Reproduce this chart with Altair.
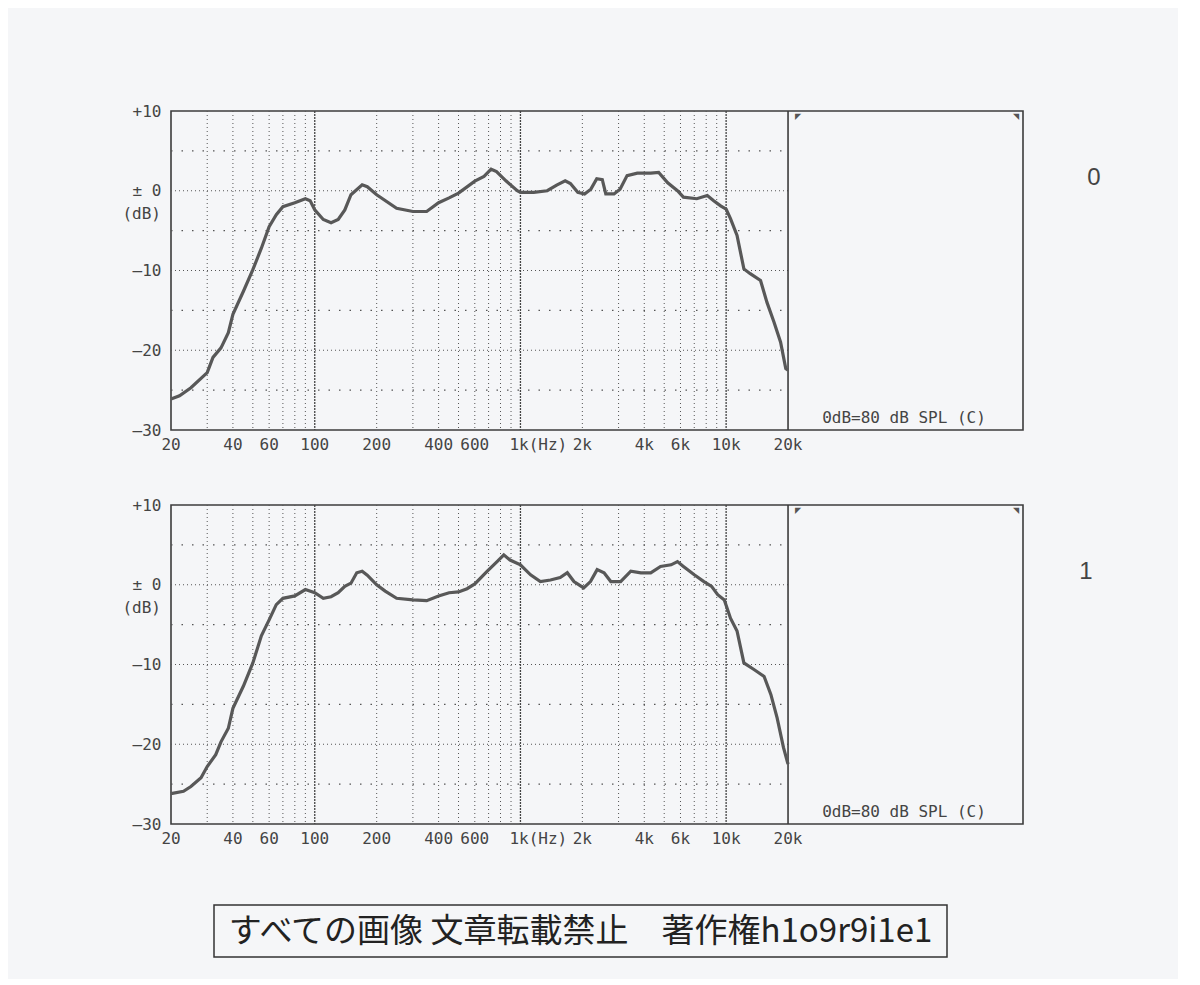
import altair as alt
import pandas as pd

# ---------------- data ----------------
top_freq = [20, 22, 25, 30, 32, 35, 38, 40, 45, 50, 55, 60, 65, 70, 80, 90, 95, 100, 110, 120,
            130, 140, 150, 170, 180, 200, 250, 300, 350, 400, 450, 500, 600, 665, 720, 765, 850,
            965, 1000, 1160, 1350, 1500, 1650, 1750, 1900, 2050, 2200, 2350, 2500, 2600, 2850,
            3050, 3300, 3700, 4300, 4700, 5200, 5800, 6200, 7200, 8100, 8700, 9400, 10000,
            10500, 11300, 12200, 13100, 14700, 15800, 17100, 18400, 19500, 20000]
top_db = [-26.1, -25.7, -24.7, -22.8, -20.9, -19.7, -17.8, -15.5, -12.6, -9.9, -7.2, -4.5, -3.0,
          -2.0, -1.5, -1.0, -1.25, -2.4, -3.6, -4.0, -3.6, -2.4, -0.5, 0.75, 0.5, -0.5, -2.2,
          -2.6, -2.6, -1.5, -0.9, -0.3, 1.2, 1.8, 2.7, 2.4, 1.25, 0.0, -0.2, -0.2, 0.0, 0.7,
          1.25, 0.9, -0.2, -0.4, 0.2, 1.5, 1.4, -0.4, -0.4, 0.2, 1.9, 2.2, 2.2, 2.3, 1.0, 0.0,
          -0.8, -1.0, -0.6, -1.25, -1.9, -2.3, -3.5, -5.6, -9.8, -10.4, -11.25, -14.0, -16.5,
          -19.0, -22.3, -22.5]

bot_freq = [20, 23, 25, 28, 30, 33, 35, 38, 40, 45, 50, 55, 60, 65, 70, 80, 90, 100, 110, 120,
            130, 140, 150, 160, 170, 180, 200, 220, 250, 300, 350, 400, 450, 500, 550, 600, 690,
            770, 830, 890, 1000, 1120, 1250, 1400, 1560, 1690, 1820, 2030, 2190, 2360, 2550,
            2750, 3070, 3440, 3850, 4300, 4800, 5400, 5800, 6200, 7000, 7800, 8500, 9100, 9800,
            10500, 11300, 12200, 13600, 15300, 16500, 17700, 19000, 20000]
bot_db = [-26.2, -25.9, -25.3, -24.2, -22.8, -21.3, -19.7, -18.0, -15.5, -12.7, -9.8, -6.4, -4.4,
          -2.5, -1.7, -1.4, -0.6, -1.0, -1.7, -1.5, -1.0, -0.2, 0.2, 1.5, 1.7, 1.2, 0.0, -0.8,
          -1.7, -1.9, -2.0, -1.4, -1.0, -0.9, -0.5, 0.1, 1.7, 2.9, 3.75, 3.1, 2.5, 1.25, 0.4,
          0.6, 0.9, 1.5, 0.4, -0.4, 0.4, 1.9, 1.5, 0.4, 0.4, 1.7, 1.5, 1.5, 2.3, 2.5, 2.9, 2.3,
          1.25, 0.4, -0.2, -1.25, -1.9, -4.2, -5.8, -9.8, -10.6, -11.5, -13.75, -16.7, -20.4,
          -22.5]

panel_tags = ["0", "1"]

grid_minor_f = [30, 40, 50, 60, 70, 80, 90, 200, 300, 400, 500, 600, 700, 800, 900,
                2000, 3000, 4000, 5000, 6000, 7000, 8000, 9000]
grid_major_f = [100, 1000, 10000]
grid_major_db = [0, -10, -20]
grid_minor_db = [5, -5, -15, -25]

x_lbl_f = [20, 40, 60, 100, 200, 400, 600, 2000, 4000, 6000, 10000, 20000]
x_lbl_t = ["20", "40", "60", "100", "200", "400", "600", "2k", "4k", "6k", "10k", "20k"]
y_tick_vals = [10, 0, -10, -20, -30]

spl_note = "0dB=80 dB SPL (C)"
footer_text = "すべての画像 文章転載禁止　著作権h1o9r9i1e1"

# ---------------- layout constants ----------------
W, H = 852, 319
X_MAX = 277600
MONO = "DejaVu Sans Mono"
INK = "#3c3c3c"
BG = "#f5f6f8"

xs = alt.Scale(type="log", domain=[20, X_MAX])
ys = alt.Scale(domain=[-30, 10])
y_axis = alt.Axis(
    values=y_tick_vals, grid=False, ticks=False, domain=False, title=None,
    labelExpr="datum.value == 10 ? '+10' : datum.value == 0 ? '± 0' : '—' + abs(datum.value)",
    labelFont=MONO, labelFontSize=16, labelColor="#444", labelPadding=10,
)


def panel(freq, db, tag):
    curve = pd.DataFrame({"f": freq, "db": db})

    vmin = alt.Chart(pd.DataFrame({"f": grid_minor_f})).mark_rule(
        color="#555", strokeWidth=1, strokeDash=[1, 3]
    ).encode(x=alt.X("f:Q", scale=xs, axis=None), y=alt.value(0), y2=alt.value(H))

    vmaj = alt.Chart(pd.DataFrame({"f": grid_major_f})).mark_rule(
        color="#444", strokeWidth=1.3, strokeDash=[2, 1]
    ).encode(x=alt.X("f:Q", scale=xs, axis=None), y=alt.value(0), y2=alt.value(H))

    hmaj = alt.Chart(pd.DataFrame({"g": grid_major_db, "a": [20] * 3, "b": [20000] * 3})).mark_rule(
        color="#555", strokeWidth=1.1, strokeDash=[1, 3]
    ).encode(y=alt.Y("g:Q", scale=ys, axis=y_axis),
             x=alt.X("a:Q", scale=xs, axis=None), x2="b:Q")

    hmin = alt.Chart(pd.DataFrame({"g": grid_minor_db, "a": [20] * 4, "b": [20000] * 4})).mark_rule(
        color="#555", strokeWidth=1.2, strokeDash=[1.5, 9]
    ).encode(y=alt.Y("g:Q", scale=ys, axis=y_axis),
             x=alt.X("a:Q", scale=xs, axis=None), x2="b:Q")

    edge = alt.Chart(pd.DataFrame({"f": [20000]})).mark_rule(
        color=INK, strokeWidth=1.6
    ).encode(x=alt.X("f:Q", scale=xs, axis=None), y=alt.value(0), y2=alt.value(H))

    line = alt.Chart(curve).mark_line(
        color="#585858", strokeWidth=3.2, interpolate="linear", strokeJoin="miter"
    ).encode(
        x=alt.X("f:Q", scale=xs, axis=None),
        y=alt.Y("db:Q", scale=ys, axis=y_axis),
    )

    xl = alt.Chart(pd.DataFrame({"f": x_lbl_f, "t": x_lbl_t})).mark_text(
        font=MONO, fontSize=16, color="#444", baseline="middle", align="center"
    ).encode(x=alt.X("f:Q", scale=xs, axis=None), y=alt.value(H + 15), text="t:N")

    x1k = alt.Chart(pd.DataFrame({"f": [1000], "t": ["1k(Hz)"]})).mark_text(
        font=MONO, fontSize=16, color="#444", baseline="middle", align="left", dx=-11
    ).encode(x=alt.X("f:Q", scale=xs, axis=None), y=alt.value(H + 15), text="t:N")

    db_unit = alt.Chart(pd.DataFrame({"v": [-2.9], "t": ["(dB)"]})).mark_text(
        font=MONO, fontSize=16, color="#444", baseline="middle", align="right"
    ).encode(y=alt.Y("v:Q", scale=ys, axis=y_axis), x=alt.value(-10), text="t:N")

    spl = alt.Chart(pd.DataFrame({"t": [spl_note]})).mark_text(
        font=MONO, fontSize=16, color="#444", baseline="middle", align="center"
    ).encode(x=alt.value(733), y=alt.value(H - 12), text="t:N")

    corners = alt.Chart(pd.DataFrame({"t": ["◤", "◥"], "px": [627, 845]})).mark_text(
        fontSize=8, color="#555", baseline="top", align="center"
    ).encode(x=alt.X("px:Q", scale=None), y=alt.value(2), text="t:N")

    tag_txt = alt.Chart(pd.DataFrame({"t": [tag]})).mark_text(
        font="Liberation Sans", fontSize=24, color="#444", baseline="middle", align="center"
    ).encode(x=alt.value(923 if tag == "0" else 915), y=alt.value(67), text="t:N")

    return alt.layer(
        vmin, vmaj, hmaj, hmin, edge, line, xl, x1k, db_unit, spl, corners, tag_txt
    ).properties(width=W, height=H)


FOOT_OFF = 14
footer_df = pd.DataFrame({"t": [footer_text]})
footer_box = alt.Chart(footer_df).mark_rect(
    fill=BG, stroke="#333", strokeWidth=1.5
).encode(x=alt.value(43), x2=alt.value(776), y=alt.value(FOOT_OFF), y2=alt.value(FOOT_OFF + 52))
footer_txt = alt.Chart(footer_df).mark_text(
    font="Noto Sans CJK JP", fontSize=33, color="#222", baseline="middle", align="center"
).encode(x=alt.value(409.5), y=alt.value(FOOT_OFF + 27), text="t:N")
footer = alt.layer(footer_box, footer_txt).properties(
    width=W, height=FOOT_OFF + 52, view=alt.ViewConfig(stroke="transparent")
)

p0 = panel(top_freq, top_db, panel_tags[0])
p1 = panel(bot_freq, bot_db, panel_tags[1])

chart = alt.vconcat(p0, p1, footer, spacing=42).properties(
    padding={"left": 113, "top": 94, "right": 76, "bottom": 20},
    background=BG,
).configure_view(stroke=INK, strokeWidth=1.6)

chart.save("out.html", embed_options={"renderer": "svg", "actions": False})
